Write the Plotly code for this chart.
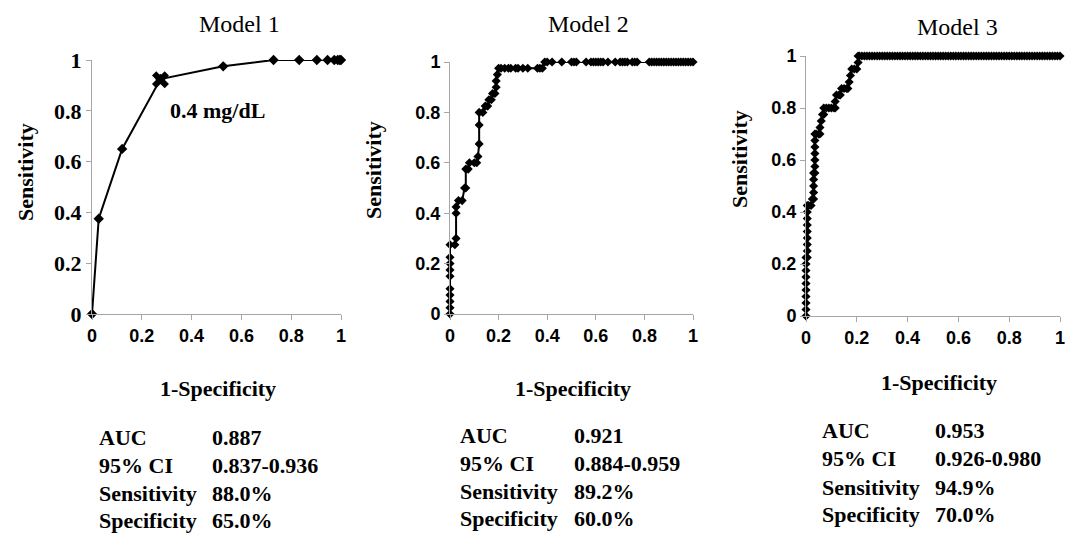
import plotly.graph_objects as go

W, H = 1065, 533

# ---------------- data ----------------
m1_fpr = [0, 0.027, 0.121, 0.275, 0.527, 0.729, 0.832, 0.903, 0.946, 0.973, 0.987, 0.995, 1.0]
m1_tpr = [0, 0.375, 0.65, 0.925, 0.975, 1, 1, 1, 1, 1, 1, 1, 1]
m1_cut_fpr = [0.275]
m1_cut_tpr = [0.922]
m1_cut_label = "0.4 mg/dL"

m2_fpr = [0, 0, 0, 0, 0, 0, 0, 0, 0, 0, 0.02, 0.025, 0.025, 0.025, 0.035, 0.05, 0.06, 0.065,
          0.065, 0.075, 0.08, 0.1, 0.11, 0.115, 0.12, 0.12, 0.12, 0.135, 0.145, 0.155, 0.16,
          0.17, 0.175, 0.185, 0.19, 0.19, 0.195, 0.2, 0.21, 0.225, 0.24, 0.25, 0.27, 0.28, 0.3,
          0.32, 0.36, 0.37, 0.38, 0.39, 0.4, 0.42, 0.46, 0.5, 0.51, 0.52, 0.56, 0.58, 0.59, 0.6,
          0.61, 0.62, 0.63, 0.65, 0.68, 0.7, 0.71, 0.72, 0.73, 0.75, 0.76, 0.77, 0.82, 0.83,
          0.84, 0.85, 0.86, 0.87, 0.88, 0.89, 0.9, 0.91, 0.92, 0.93, 0.94, 0.95, 0.96, 0.97,
          0.98, 0.99, 1.0]
m2_tpr = [0, 0.025, 0.05, 0.075, 0.1, 0.15, 0.175, 0.2, 0.225, 0.275, 0.275, 0.3, 0.4, 0.425,
          0.45, 0.45, 0.5, 0.5, 0.575, 0.575, 0.6, 0.6, 0.6, 0.625, 0.675, 0.75, 0.8, 0.8, 0.825,
          0.825, 0.85, 0.85, 0.875, 0.875, 0.9, 0.925, 0.95, 0.975, 0.975, 0.975, 0.975, 0.975,
          0.975, 0.975, 0.975, 0.975, 0.975, 0.975, 0.975, 1, 1, 1, 1, 1, 1, 1, 1, 1, 1, 1, 1, 1,
          1, 1, 1, 1, 1, 1, 1, 1, 1, 1, 1, 1, 1, 1, 1, 1, 1, 1, 1, 1, 1, 1, 1, 1, 1, 1, 1, 1, 1]

m3_fpr = [0, 0, 0, 0, 0, 0, 0, 0, 0, 0,
          0.005, 0.005, 0.005, 0.005, 0.005, 0.005, 0.005, 0.005, 0.005,
          0.01, 0.02, 0.025, 0.03, 0.03, 0.03, 0.03, 0.03, 0.035, 0.035, 0.035, 0.035, 0.035,
          0.035, 0.035, 0.04, 0.05, 0.055, 0.055, 0.06, 0.065, 0.07, 0.07, 0.08, 0.09, 0.1, 0.11,
          0.115, 0.115, 0.12, 0.13, 0.135, 0.14, 0.15, 0.16, 0.165, 0.17, 0.175, 0.18, 0.19,
          0.2, 0.205, 0.205,
          0.21, 0.22, 0.23, 0.24, 0.25, 0.26, 0.27, 0.28, 0.29, 0.30, 0.31, 0.32, 0.33, 0.34,
          0.35, 0.36, 0.37, 0.38, 0.39, 0.40, 0.41, 0.42, 0.43, 0.44, 0.45, 0.46, 0.47, 0.48,
          0.49, 0.50, 0.51, 0.52, 0.53, 0.54, 0.55, 0.56, 0.57, 0.58, 0.59, 0.60, 0.61, 0.62,
          0.63, 0.64, 0.65, 0.66, 0.67, 0.68, 0.69, 0.70, 0.71, 0.72, 0.73, 0.74, 0.75, 0.76,
          0.77, 0.78, 0.79, 0.80, 0.81, 0.82, 0.83, 0.84, 0.85, 0.86, 0.87, 0.88, 0.89, 0.90,
          0.91, 0.92, 0.93, 0.94, 0.95, 0.96, 0.97, 0.98, 0.99, 1.0]
m3_tpr = [0, 0.025, 0.05, 0.075, 0.1, 0.125, 0.15, 0.175, 0.2, 0.225,
          0.225, 0.25, 0.275, 0.3, 0.325, 0.35, 0.375, 0.4, 0.425,
          0.425, 0.425, 0.45, 0.45, 0.475, 0.5, 0.525, 0.55, 0.55, 0.575, 0.6, 0.625, 0.65,
          0.675, 0.7, 0.7, 0.7, 0.7, 0.725, 0.75, 0.775, 0.775, 0.8, 0.8, 0.8, 0.8, 0.8,
          0.8, 0.825, 0.85, 0.85, 0.85, 0.875, 0.875, 0.875, 0.875, 0.9, 0.925, 0.95, 0.95,
          0.95, 0.975, 1] + [1] * 80

ticks = [0, 0.2, 0.4, 0.6, 0.8, 1]
tick_text = ["0", "0.2", "0.4", "0.6", "0.8", "1"]

titles = ["Model 1", "Model 2", "Model 3"]
x_title = "1-Specificity"
y_title = "Sensitivity"
stat_names = ["AUC", "95% CI", "Sensitivity", "Specificity"]
m1_stats = ["0.887", "0.837-0.936", "88.0%", "65.0%"]
m2_stats = ["0.921", "0.884-0.959", "89.2%", "60.0%"]
m3_stats = ["0.953", "0.926-0.980", "94.9%", "70.0%"]

# ---------------- layout helpers ----------------
SERIF = "Liberation Serif, Times New Roman, serif"
SANS = "Liberation Sans, Arial, sans-serif"
AXIS_GRAY = "#a6a6a6"


def px(x):
    return x / W


def py(y):
    return 1 - y / H


# pixel boxes of each plot area (left, right, top, bottom)
boxes = [(92, 341, 60, 314), (450, 693, 62, 314), (806, 1060, 56, 316)]

fig = go.Figure()

series = [(m1_fpr, m1_tpr), (m2_fpr, m2_tpr), (m3_fpr, m3_tpr)]
msize = [8, 7, 7]
for i, (fx, ty) in enumerate(series):
    sfx = "" if i == 0 else str(i + 1)
    fig.add_trace(go.Scatter(
        x=fx, y=ty, mode="lines+markers",
        line=dict(color="black", width=2),
        marker=dict(symbol="diamond", size=msize[i], color="black"),
        xaxis="x" + sfx, yaxis="y" + sfx, cliponaxis=False, showlegend=False,
    ))

fig.add_trace(go.Scatter(
    x=m1_cut_fpr, y=m1_cut_tpr, mode="markers",
    marker=dict(symbol="x", size=15, color="black", line=dict(width=0)),
    xaxis="x", yaxis="y", cliponaxis=False, showlegend=False,
))

layout = dict(
    width=W, height=H,
    margin=dict(l=0, r=0, t=0, b=0, pad=0, autoexpand=False),
    paper_bgcolor="white", plot_bgcolor="white",
    showlegend=False,
)

for i, (l, r, t, b) in enumerate(boxes):
    sfx = "" if i == 0 else str(i + 1)
    ytick_font = dict(family=SERIF, size=22, color="black", weight="bold") if i == 0 else \
        dict(family=SANS, size=18, color="black", weight="bold")
    layout["xaxis" + sfx] = dict(
        domain=[px(l), px(r)], range=[0, 1], anchor="y" + sfx, automargin=False,
        tickvals=ticks, ticktext=tick_text, ticks="outside", ticklen=5,
        tickcolor=AXIS_GRAY, showline=True, linecolor=AXIS_GRAY, linewidth=1,
        showgrid=False, zeroline=False, ticklabeloverflow="allow",
        tickfont=dict(family=SANS, size=18, color="black", weight="bold"),
    )
    layout["yaxis" + sfx] = dict(
        domain=[py(b), py(t)], range=[0, 1], anchor="x" + sfx, automargin=False,
        tickvals=ticks, ticktext=tick_text, ticks="outside", ticklen=5,
        tickcolor=AXIS_GRAY, showline=True, linecolor=AXIS_GRAY, linewidth=1,
        showgrid=False, zeroline=False, ticklabeloverflow="allow", tickfont=ytick_font,
    )

annotations = []
title_pos = [(239, 24), (588, 24), (957, 27)]
ytitle_pos = [(25, 172), (373, 170), (739, 159)]
xtitle_pos = [(218, 388), (573, 388), (939, 383)]
table_x = [(97, 210), (458, 572), (820, 933)]
table_y = [[437, 465, 493, 520], [435, 463, 491, 518], [430, 458, 487, 514]]
stats = [m1_stats, m2_stats, m3_stats]

for i in range(3):
    annotations.append(dict(
        text=titles[i], x=px(title_pos[i][0]), y=py(title_pos[i][1]),
        xref="paper", yref="paper", xanchor="center", yanchor="middle",
        showarrow=False, font=dict(family=SERIF, size=24, color="black"),
    ))
    annotations.append(dict(
        text="<b>" + y_title + "</b>", x=px(ytitle_pos[i][0]), y=py(ytitle_pos[i][1]),
        xref="paper", yref="paper", xanchor="center", yanchor="middle", textangle=-90,
        showarrow=False, font=dict(family=SERIF, size=22, color="black"),
    ))
    annotations.append(dict(
        text="<b>" + x_title + "</b>", x=px(xtitle_pos[i][0]), y=py(xtitle_pos[i][1]),
        xref="paper", yref="paper", xanchor="center", yanchor="middle",
        showarrow=False, font=dict(family=SERIF, size=22, color="black"),
    ))
    for j in range(4):
        annotations.append(dict(
            text="<b>" + stat_names[j] + "</b>", x=px(table_x[i][0]), y=py(table_y[i][j]),
            xref="paper", yref="paper", xanchor="left", yanchor="middle",
            showarrow=False, font=dict(family=SERIF, size=22, color="black"),
        ))
        annotations.append(dict(
            text="<b>" + stats[i][j] + "</b>", x=px(table_x[i][1]), y=py(table_y[i][j]),
            xref="paper", yref="paper", xanchor="left", yanchor="middle",
            showarrow=False, font=dict(family=SERIF, size=22, color="black"),
        ))

annotations.append(dict(
    text="<b>" + m1_cut_label + "</b>", x=0.505, y=0.8, xref="x", yref="y",
    xanchor="center", yanchor="middle", showarrow=False,
    font=dict(family=SERIF, size=22, color="black"),
))

layout["annotations"] = annotations
fig.update_layout(**layout)
fig.write_html(
    "out.html",
    config={"displayModeBar": False},
    post_script="document.body.style.margin='0';document.body.style.padding='0';"
                "document.body.style.overflow='hidden';",
)
